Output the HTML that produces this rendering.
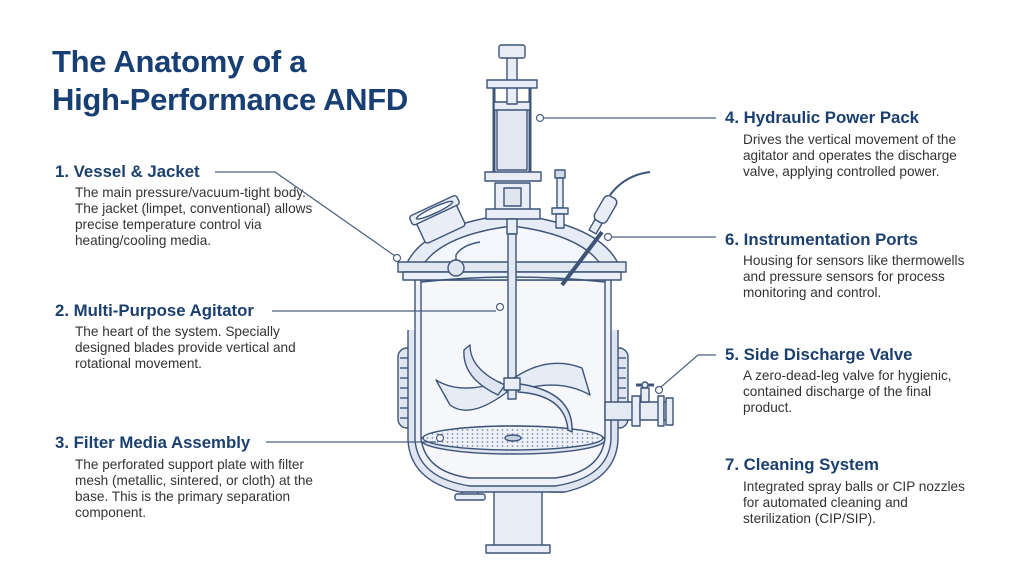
<!DOCTYPE html>
<html><head><meta charset="utf-8"><style>
body{margin:0;width:1024px;height:571px;background:#fff;position:relative;overflow:hidden;font-family:"Liberation Sans",sans-serif}
.t{position:absolute;left:52px;font-size:31px;font-weight:bold;color:#173f73;line-height:38px;letter-spacing:-0.3px}
.h{position:absolute;font-size:16.8px;font-weight:bold;color:#1b3f6f;white-space:nowrap;line-height:18px}
.b{position:absolute;font-size:13.6px;color:#333;line-height:16px;white-space:nowrap}
svg{position:absolute;left:0;top:0}
</style></head><body>
<div class="t" style="top:43px">The Anatomy of a<br>High-Performance ANFD</div>

<div class="h" style="left:55px;top:163px">1. Vessel &amp; Jacket</div>
<div class="b" style="left:75px;top:185px">The main pressure/vacuum-tight body.<br>The jacket (limpet, conventional) allows<br>precise temperature control via<br>heating/cooling media.</div>
<div class="h" style="left:55px;top:302px">2. Multi-Purpose Agitator</div>
<div class="b" style="left:75px;top:324px">The heart of the system. Specially<br>designed blades provide vertical and<br>rotational movement.</div>
<div class="h" style="left:55px;top:434px">3. Filter Media Assembly</div>
<div class="b" style="left:75px;top:457px">The perforated support plate with filter<br>mesh (metallic, sintered, or cloth) at the<br>base. This is the primary separation<br>component.</div>

<div class="h" style="left:725px;top:109px">4. Hydraulic Power Pack</div>
<div class="b" style="left:743px;top:132px">Drives the vertical movement of the<br>agitator and operates the discharge<br>valve, applying controlled power.</div>
<div class="h" style="left:725px;top:231px">6. Instrumentation Ports</div>
<div class="b" style="left:743px;top:253px">Housing for sensors like thermowells<br>and pressure sensors for process<br>monitoring and control.</div>
<div class="h" style="left:725px;top:346px">5. Side Discharge Valve</div>
<div class="b" style="left:743px;top:368px">A zero-dead-leg valve for hygienic,<br>contained discharge of the final<br>product.</div>
<div class="h" style="left:725px;top:456px">7. Cleaning System</div>
<div class="b" style="left:743px;top:479px">Integrated spray balls or CIP nozzles<br>for automated cleaning and<br>sterilization (CIP/SIP).</div>

<svg width="1024" height="571" viewBox="0 0 1024 571">
<g fill="#e9eef6" stroke="#3d5478" stroke-width="1.4" stroke-linejoin="round">
<rect x="462" y="478" width="16" height="18"/><rect x="455" y="494" width="30" height="6" rx="2"/>
<rect x="550" y="478" width="14" height="14"/>
<rect x="494" y="465" width="48" height="82"/><rect x="486" y="545" width="64" height="8"/>
<g fill="#dfe6f1">
<rect x="398" y="348" width="22" height="80" rx="9"/><rect x="604" y="348" width="24" height="80" rx="9"/>
</g>
<g fill="none" stroke="#4a6288"><path d="M400 358h18M400 368h18M400 378h18M400 388h18M400 398h18M400 408h18M400 418h18M608 358h18M608 368h18M608 378h18M608 388h18M608 398h18M608 408h18M608 418h18"/></g>
<path d="M408 330 L408 440 Q410 480 460 492 L565 492 Q616 480 618 440 L618 330" fill="#dfe6f1"/>
<path d="M415 275 L415 440 Q418 478 470 486 L555 486 Q608 478 611 440 L611 275 Z" fill="#eef2f8"/>
<path d="M421 280 L421 438 Q425 472 470 478 L555 478 Q601 472 605 438 L605 280 Z" fill="#f5f7fb"/>
<rect x="605" y="402" width="30" height="18" fill="#e4eaf3"/>
<rect x="632" y="396" width="8" height="30"/><rect x="640" y="402" width="20" height="18"/><rect x="658" y="396" width="6" height="30"/>
<rect x="664" y="402" width="6" height="18"/><rect x="666" y="398" width="7" height="27"/>
<rect x="641" y="388" width="8" height="14"/><path d="M636 385h18" stroke-width="3"/><circle cx="645" cy="385" r="3"/>
<ellipse cx="513" cy="440" rx="92" ry="14" fill="#dde4ef"/>
<ellipse cx="513" cy="438" rx="90" ry="12" fill="url(#dots)"/>
<ellipse cx="513" cy="438" rx="8" ry="3" fill="#c5d0e0"/>
<path d="M405 268 Q420 225 512 214 Q604 225 620 268 Z" fill="#e6ecf5"/>
<path d="M421 268 Q440 235 512 226 Q584 235 603 268 Z" fill="#f3f6fa"/>
<rect x="398" y="262" width="228" height="10" fill="#e1e8f2"/>
<rect x="403" y="272" width="218" height="8" fill="#eaf0f7"/>
<path d="M421 282 Q512 272 605 282" fill="none"/>
<g transform="rotate(-25 440 222)"><rect x="418" y="212" width="44" height="24" rx="3"/><rect x="414" y="204" width="52" height="10" rx="3"/><ellipse cx="440" cy="209" rx="20" ry="3" fill="#f7f9fc"/></g>
<path d="M456 260 L456 255 Q462 245 480 242" fill="none"/>
<circle cx="456" cy="268" r="8" fill="#dfe6f0"/>
<rect x="555" y="170" width="10" height="8" fill="#cfd8e6"/><rect x="557" y="178" width="6" height="30"/><rect x="552" y="208" width="16" height="6"/><rect x="556" y="214" width="8" height="14"/>
<path d="M610 195 Q625 175 650 172" fill="none" stroke-width="2"/>
<path d="M602 232 L562 285" stroke-width="4"/>
<g transform="rotate(30 604 212)"><rect x="597" y="195" width="14" height="28" rx="5"/><rect x="600" y="223" width="8" height="12"/></g>
<rect x="495" y="183" width="35" height="27"/><rect x="504" y="188" width="17" height="18" fill="#dfe6f0"/>
<rect x="486" y="209" width="54" height="10"/>
<path d="M494 84 V175 M530 84 V175" stroke-width="3"/>
<rect x="485" y="172" width="56" height="9"/>
<rect x="497" y="108" width="30" height="62" fill="#e3e9f3"/><rect x="494" y="102" width="36" height="8"/>
<rect x="507" y="56" width="10" height="48"/>
<rect x="487" y="80" width="50" height="8"/>
<rect x="499" y="45" width="26" height="13" rx="2"/>
<rect x="507" y="219" width="10" height="15"/>
<rect x="508" y="234" width="8" height="165" fill="#e3e9f3"/>
<path d="M507 392 Q470 420 450 405 L436 380 Q460 395 500 382 Z" fill="#e6ecf5"/>
<path d="M514 378 Q548 355 582 368 L590 395 Q560 378 520 390 Z" fill="#e6ecf5"/>
<path d="M505 385 Q470 370 470 345 L464 350 Q462 378 498 395 Z" fill="#dfe6f1"/>
<path d="M518 392 Q565 395 568 430 L572 432 Q574 392 520 384 Z" fill="#dfe6f1"/>
<rect x="504" y="378" width="16" height="12"/>
</g>
<defs><pattern id="dots" width="5" height="4" patternUnits="userSpaceOnUse"><rect width="5" height="4" fill="#eef2f8"/><circle cx="2.5" cy="2" r="0.9" fill="#7d90ae"/></pattern></defs>
<g fill="none" stroke="#4a5f80" stroke-width="1.2">
<path d="M215 172 H275 L395 256"/><circle cx="397" cy="258" r="3.5" fill="#fff"/>
<path d="M272 311 H496"/><circle cx="500" cy="307" r="3.5" fill="#fff"/>
<path d="M266 442 H436"/><circle cx="440" cy="438" r="3.5" fill="#fff"/>
<path d="M544 118 H716"/><circle cx="540" cy="118" r="3.5" fill="#fff"/>
<path d="M612 237 H716"/><circle cx="608" cy="237" r="3.5" fill="#fff"/>
<path d="M661 387 L698 355 H716"/><circle cx="659" cy="390" r="3.5" fill="#fff"/>
</g>
</svg>
</body></html>
